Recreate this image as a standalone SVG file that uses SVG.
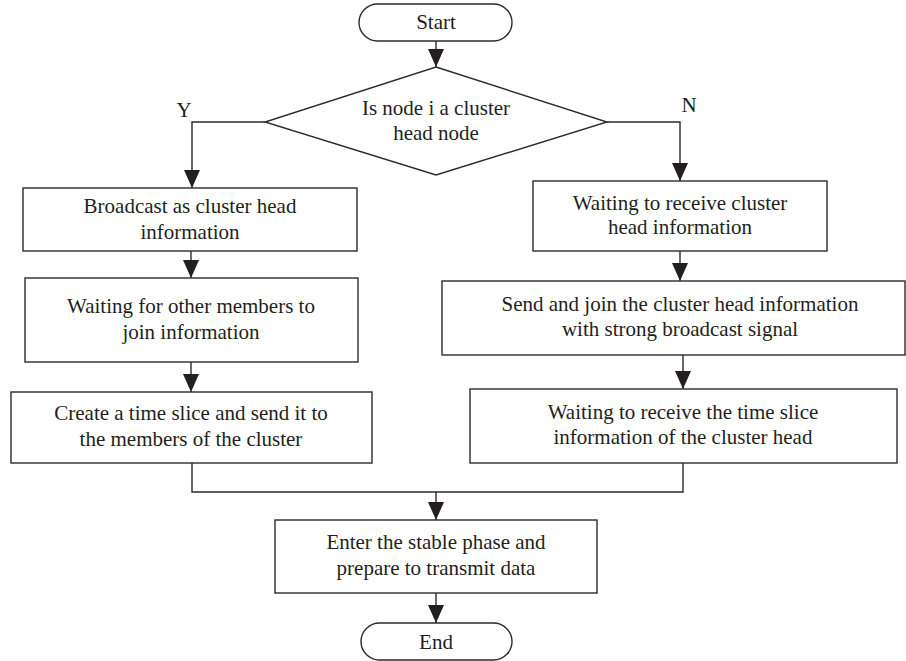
<svg xmlns="http://www.w3.org/2000/svg" width="906" height="661" viewBox="0 0 906 661">
<style>
.n{fill:#fff;stroke:#2b2b2b;stroke-width:1.4}
.c{fill:none;stroke:#2b2b2b;stroke-width:1.4}
.t{font-family:'Liberation Serif','DejaVu Serif',serif;font-size:21px;fill:#231f20;text-anchor:middle}
</style>
<defs>
<marker id="ah" markerUnits="userSpaceOnUse" markerWidth="18" markerHeight="16" refX="18" refY="8" orient="auto" viewBox="0 0 18 16">
<path d="M0,0 L18,8 L0,16 z" fill="#231f20"/>
</marker>
</defs>
<g id="connectors">
<line class="c" x1="436" y1="41" x2="436" y2="67" marker-end="url(#ah)"/>
<polyline class="c" points="265,122 192,122 192,188" marker-end="url(#ah)"/>
<polyline class="c" points="607,122 680,122 680,181" marker-end="url(#ah)"/>
<line class="c" x1="191" y1="251" x2="191" y2="278" marker-end="url(#ah)"/>
<line class="c" x1="191" y1="362" x2="191" y2="392" marker-end="url(#ah)"/>
<line class="c" x1="680" y1="251" x2="680" y2="281" marker-end="url(#ah)"/>
<line class="c" x1="683" y1="355" x2="683" y2="389" marker-end="url(#ah)"/>
<polyline class="c" points="192,463 192,492 683,492 683,463"/>
<line class="c" x1="436" y1="492" x2="436" y2="520" marker-end="url(#ah)"/>
<line class="c" x1="436" y1="593" x2="436" y2="623" marker-end="url(#ah)"/>
<text class="t" x="184" y="117">Y</text>
<text class="t" x="689" y="112">N</text>
</g>
<g id="start">
<rect class="n" x="359" y="4" width="153" height="37" rx="18.5"/>
<text class="t" x="436" y="29">Start</text>
</g>
<g id="decision">
<polygon class="n" points="436,67 607,122 436,175 265,122"/>
<text class="t" x="436" y="115">Is node i a cluster</text>
<text class="t" x="436" y="140">head node</text>
</g>
<g id="broadcast">
<rect class="n" x="23" y="188" width="334" height="63"/>
<text class="t" x="190" y="213">Broadcast as cluster head</text>
<text class="t" x="190" y="239">information</text>
</g>
<g id="waitMembers">
<rect class="n" x="25" y="278" width="333" height="84"/>
<text class="t" x="191" y="313">Waiting for other members to</text>
<text class="t" x="191" y="339">join information</text>
</g>
<g id="createSlice">
<rect class="n" x="11" y="392" width="361" height="71"/>
<text class="t" x="191" y="420">Create a time slice and send it to</text>
<text class="t" x="191" y="446">the members of the cluster</text>
</g>
<g id="waitHead">
<rect class="n" x="533" y="181" width="294" height="70"/>
<text class="t" x="680" y="210">Waiting to receive cluster</text>
<text class="t" x="680" y="234">head information</text>
</g>
<g id="sendJoin">
<rect class="n" x="442" y="281" width="463" height="74"/>
<text class="t" x="680" y="311">Send and join the cluster head information</text>
<text class="t" x="680" y="336">with strong broadcast signal</text>
</g>
<g id="waitSlice">
<rect class="n" x="470" y="389" width="427" height="74"/>
<text class="t" x="683" y="419">Waiting to receive the time slice</text>
<text class="t" x="683" y="444">information of the cluster head</text>
</g>
<g id="stable">
<rect class="n" x="275" y="520" width="322" height="73"/>
<text class="t" x="436" y="549">Enter the stable phase and</text>
<text class="t" x="436" y="575">prepare to transmit data</text>
</g>
<g id="end">
<rect class="n" x="361" y="623" width="151" height="37" rx="18.5"/>
<text class="t" x="436" y="649">End</text>
</g>
</svg>
